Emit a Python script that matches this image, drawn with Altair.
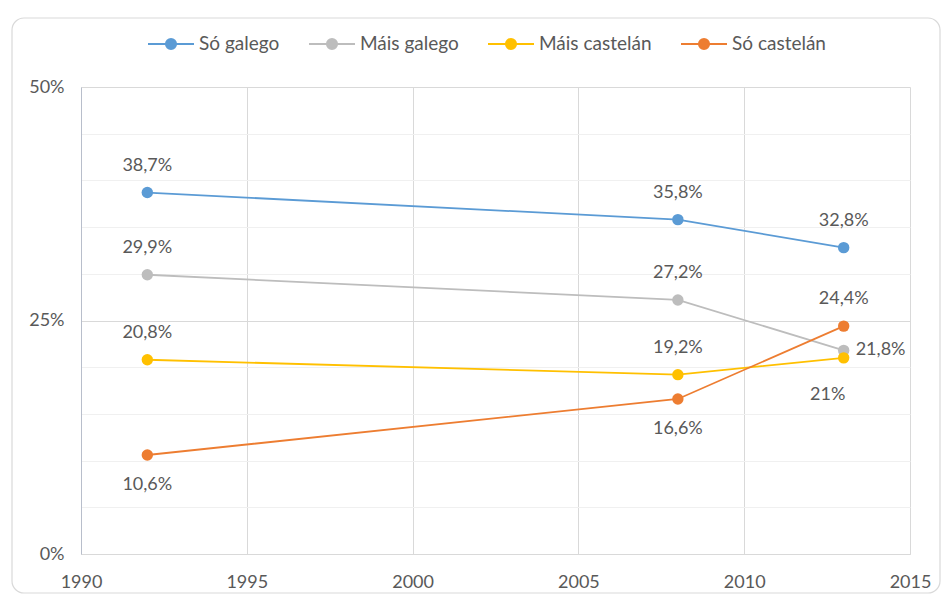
import altair as alt
import pandas as pd

# ---- data ----
years = [1992, 2008, 2013]
series = ["Só galego", "Máis galego", "Máis castelán", "Só castelán"]
so_galego = [38.7, 35.8, 32.8]
mais_galego = [29.9, 27.2, 21.8]
mais_castelan = [20.8, 19.2, 21.0]
so_castelan = [10.6, 16.6, 24.4]
label_side = {
    "Só galego": ["above", "above", "above"],
    "Máis galego": ["above", "above", "right"],
    "Máis castelán": ["above", "above", "below_left"],
    "Só castelán": ["below", "below", "above"],
}
colors = ["#5B9BD5", "#BDBDBD", "#FFC000", "#ED7D31"]
x_ticks = [1990, 1995, 2000, 2005, 2010, 2015]
y_ticks = list(range(0, 51, 5))

rows = []
for s, vals in zip(series, [so_galego, mais_galego, mais_castelan, so_castelan]):
    for yr, v, p in zip(years, vals, label_side[s]):
        lab = f"{v:g}".replace(".", ",") + "%"
        rows.append({"serie": s, "ano": yr, "valor": v, "etiqueta": lab, "pos": p})
df = pd.DataFrame(rows)

FONT = "Lato"
TXT = "#595959"

x_enc = alt.X(
    "ano:Q",
    scale=alt.Scale(domain=[1990, 2015], nice=False, zero=False),
    axis=alt.Axis(
        values=x_ticks, format="d", title=None, ticks=False,
        labelFont=FONT, labelFontSize=18, labelColor=TXT, labelPadding=19,
        gridColor="#D9D9D9", domainColor="#D9D9D9", labelFlush=False,
    ),
)
y_enc = alt.Y(
    "valor:Q",
    scale=alt.Scale(domain=[0, 50], nice=False),
    axis=alt.Axis(
        values=y_ticks, title=None, ticks=False,
        labelExpr="datum.value % 25 === 0 ? datum.value + '%' : ''",
        labelFont=FONT, labelFontSize=18, labelColor=TXT, labelPadding=17,
        gridColor=alt.condition("datum.value % 25 === 0", alt.value("#D9D9D9"), alt.value("#F0F0F0")),
        domainColor="#B8BECB",
    ),
)

legend_path = "M-1,0H-0.22M0.22,0H1M0.22,0A0.22,0.22,0,1,1,-0.22,0A0.22,0.22,0,1,1,0.22,0"
legend = alt.Legend(
    orient="none", legendX=66, legendY=-67, direction="horizontal", title=None,
    symbolType=legend_path, symbolSize=2116, symbolStrokeWidth=2,
    labelFont=FONT, labelFontSize=19, labelColor=TXT,
    labelOffset=4, columnPadding=25,
)
color_scale = alt.Scale(domain=series, range=colors)

base = alt.Chart(df)

lines = base.mark_line(strokeWidth=1.8).encode(
    x=x_enc, y=y_enc,
    stroke=alt.Stroke("serie:N", sort=series, scale=color_scale, legend=legend),
)

points = base.mark_circle(size=130, opacity=1, strokeWidth=0).encode(
    x=x_enc, y=y_enc,
    fill=alt.Fill("serie:N", sort=series, scale=color_scale, legend=legend),
    stroke=alt.Stroke("serie:N", sort=series, scale=color_scale, legend=legend),
)

def labels(pos, **kw):
    return base.transform_filter(alt.datum.pos == pos).mark_text(
        font=FONT, fontSize=18, color=TXT, **kw
    ).encode(x=x_enc, y=y_enc, text="etiqueta:N")

t_above = labels("above", dy=-27)
t_below = labels("below", dy=30)
t_right = labels("right", align="left", dx=12)
t_below_left = labels("below_left", dy=37, dx=-16)

frame = alt.Chart(alt.Data(values=[{}])).mark_rect(
    fill="transparent", stroke="#D9D9D9", strokeWidth=1.2, cornerRadius=12
).encode(
    x=alt.value(-69), x2=alt.value(859), y=alt.value(-69), y2=alt.value(506)
)

chart = (
    alt.layer(frame, lines, points, t_above, t_below, t_right, t_below_left)
    .properties(
        width=829, height=467,
        padding={"left": 73, "top": 79, "right": 31, "bottom": 40},
        autosize=alt.AutoSizeParams(type="none"),
        background="white",
    )
    .configure_view(stroke=None)
)

chart.save("out.html", embed_options={"renderer": "svg", "actions": False})
